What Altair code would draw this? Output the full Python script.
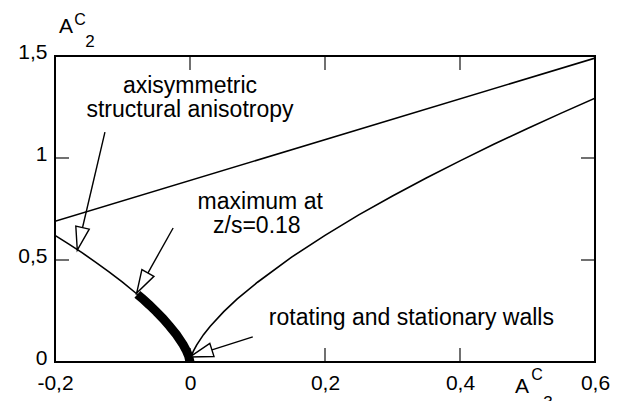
import math
import altair as alt
import pandas as pd

# ---- data ----
# two-component limit (straight line)
tc_a3 = [-0.2, 0.6]
tc_a2 = [0.69, 1.49]

# axisymmetric branch, A3 < 0
left_a3 = [-0.2, -0.18, -0.16, -0.14, -0.12, -0.10, -0.08, -0.06, -0.04, -0.03, -0.02, -0.01, -0.005, -0.002, 0.0]
left_a2 = [0.621, 0.579, 0.536, 0.490, 0.442, 0.391, 0.337, 0.279, 0.213, 0.175, 0.134, 0.084, 0.053, 0.029, 0.0]

# axisymmetric branch, A3 > 0
right_a3 = [0.0, 0.002, 0.005, 0.01, 0.02, 0.03, 0.05, 0.07, 0.10, 0.15, 0.20, 0.25, 0.30, 0.35, 0.40, 0.45, 0.50, 0.55, 0.60]
right_a2 = [0.0, 0.029, 0.053, 0.084, 0.134, 0.175, 0.247, 0.309, 0.391, 0.513, 0.621, 0.721, 0.814, 0.902, 0.986, 1.067, 1.145, 1.220, 1.293]

# thick measured segment
thick_a3 = [-0.078, -0.07, -0.06, -0.05, -0.04, -0.03, -0.02, -0.01, -0.005, -0.002, 0.0]
thick_a2 = [0.332, 0.309, 0.279, 0.247, 0.213, 0.175, 0.134, 0.084, 0.053, 0.029, 0.0]

# annotations
ann_text = ["axisymmetric", "structural anisotropy", "maximum at", "z/s=0.18", "rotating and stationary walls"]
ann_x = [0.0, 0.0, 0.104, 0.099, 0.328]
ann_y = [1.318, 1.201, 0.748, 0.632, 0.181]

arr_x0 = [-0.126, -0.025, 0.093]
arr_y0 = [1.127, 0.657, 0.123]
arr_x1 = [-0.167, -0.079, 0.0]
arr_y1 = [0.549, 0.338, 0.025]

x_ticks = [-0.2, 0, 0.2, 0.4, 0.6]
y_ticks = [0, 0.5, 1, 1.5]
x_inner = [0, 0.2, 0.4]
y_inner = [0.5, 1]

# ---- layout ----
W, H = 540, 306
XDOM, YDOM = [-0.2, 0.6], [0, 1.5]
FONT = "Liberation Sans"

xs = alt.Scale(domain=XDOM, nice=False, zero=False)
ys = alt.Scale(domain=YDOM, nice=False, zero=False)

lbl = "replace(replace(format(datum.value, '~g'), '.', ','), '\u2212', '-')"
xax = alt.Axis(values=x_ticks, ticks=False, domain=False, grid=False, labelFontSize=21,
               labelFont=FONT, labelColor="black", labelPadding=10, labelFlush=False,
               labelOverlap=False, labelExpr=lbl, title="")
yax = alt.Axis(values=y_ticks, ticks=False, domain=False, grid=False, labelFontSize=21,
               labelFont=FONT, labelColor="black", labelPadding=8, labelFlush=False,
               labelOverlap=False, labelOffset=-4, labelExpr=lbl, title="")


def curve(a3, a2, width):
    df = pd.DataFrame({"a3": a3, "a2": a2, "o": range(len(a3))})
    return alt.Chart(df).mark_line(color="black", strokeWidth=width, strokeCap="butt",
                                   clip=True).encode(
        x=alt.X("a3:Q", scale=xs, axis=xax),
        y=alt.Y("a2:Q", scale=ys, axis=yax),
        order="o:Q",
    )


base_line = curve(tc_a3, tc_a2, 1.6)
left_line = curve(left_a3, left_a2, 1.6)
right_line = curve(right_a3, right_a2, 1.6)
thick_line = curve(thick_a3, thick_a2, 9)

# inner tick marks
xt = pd.DataFrame({"v": x_inner})
yt = pd.DataFrame({"v": y_inner})
tick_top = alt.Chart(xt).mark_tick(orient="vertical", color="black", size=14, thickness=1.6).encode(
    x=alt.X("v:Q", scale=xs), y=alt.value(7))
tick_bot = alt.Chart(xt).mark_tick(orient="vertical", color="black", size=14, thickness=1.6).encode(
    x=alt.X("v:Q", scale=xs), y=alt.value(H - 7))
tick_left = alt.Chart(yt).mark_tick(orient="horizontal", color="black", size=14, thickness=1.6).encode(
    y=alt.Y("v:Q", scale=ys), x=alt.value(7))
tick_right = alt.Chart(yt).mark_tick(orient="horizontal", color="black", size=14, thickness=1.6).encode(
    y=alt.Y("v:Q", scale=ys), x=alt.value(W - 7))

# annotation text
ann_df = pd.DataFrame({"t": ann_text, "x": ann_x, "y": ann_y})
ann = alt.Chart(ann_df).mark_text(font=FONT, fontSize=23, align="center", baseline="alphabetic",
                                  color="black").encode(
    x=alt.X("x:Q", scale=xs), y=alt.Y("y:Q", scale=ys), text="t:N")

# arrows
px_x = W / (XDOM[1] - XDOM[0])
px_y = H / (YDOM[1] - YDOM[0])
angles = []
for x0, y0, x1, y1 in zip(arr_x0, arr_y0, arr_x1, arr_y1):
    dx = (x1 - x0) * px_x
    dy = -(y1 - y0) * px_y
    angles.append((math.degrees(math.atan2(dx, -dy)) + 360) % 360)
arr_df = pd.DataFrame({"x0": arr_x0, "y0": arr_y0, "x1": arr_x1, "y1": arr_y1, "ang": angles})
arr_line = alt.Chart(arr_df).mark_rule(color="black", strokeWidth=1.4).encode(
    x=alt.X("x0:Q", scale=xs), y=alt.Y("y0:Q", scale=ys), x2="x1:Q", y2="y1:Q")
arr_head = alt.Chart(arr_df).mark_point(
    shape="M0,0L0.6,2L-0.6,2Z", size=529, filled=True, fill="white", stroke="black",
    strokeWidth=1.4, opacity=1, fillOpacity=1, strokeOpacity=1).encode(
    x=alt.X("x1:Q", scale=xs), y=alt.Y("y1:Q", scale=ys), angle=alt.Angle("ang:Q", scale=None))


# axis titles (A^C_2 and A^C_3)
def txt(s, x, y, fs):
    return alt.Chart(pd.DataFrame({"t": [s]})).mark_text(
        font=FONT, fontSize=fs, align="center", baseline="alphabetic", color="black").encode(
        x=alt.value(x), y=alt.value(y), text="t:N")


titles = [
    txt("A", 11, -23, 21), txt("C", 25, -31, 16), txt("2", 35, -9, 17),
    txt("A", 467, 337, 21), txt("C", 482, 324, 16), txt("3", 493, 352, 17),
]

chart = alt.layer(
    base_line, left_line, right_line, thick_line,
    tick_top, tick_bot, tick_left, tick_right,
    arr_line, arr_head, ann, *titles
).properties(
    width=W, height=H,
    autosize=alt.AutoSizeParams(type="none"),
    padding={"left": 55, "top": 56, "right": 29, "bottom": 39},
    background="white",
).configure_view(stroke="black", strokeWidth=2)

chart.save("out.html", embed_options={"renderer": "svg", "actions": False})
